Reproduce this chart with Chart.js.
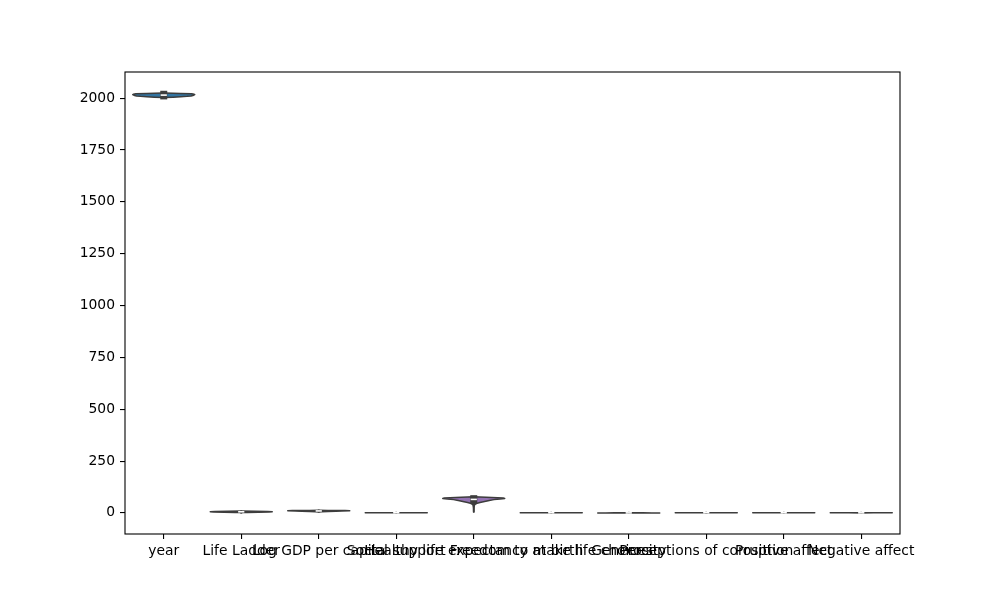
<!DOCTYPE html>
<html><head><meta charset="utf-8">
<script src="https://cdn.jsdelivr.net/npm/chart.js@4.4.1/dist/chart.umd.min.js"></script>
<style>html,body{margin:0;padding:0;background:#fff}#wrap{width:1000px;height:600px}</style>
</head><body>
<div id="wrap"><canvas id="c" width="1000" height="600"></canvas></div>
<script>
const categories = ["year", "Life Ladder", "Log GDP per capita", "Social support",
  "Healthy life expectancy at birth", "Freedom to make life choices", "Generosity",
  "Perceptions of corruption", "Positive affect", "Negative affect"];

const whiskerLow  = [2005, 1.28, 5.53, 0.23, 6.72, 0.23, -0.34, 0.035, 0.18, 0.08];
const q1          = [2011, 4.64, 8.51, 0.74, 59.2, 0.66, -0.11, 0.69, 0.57, 0.21];
const medians     = [2015, 5.45, 9.50, 0.83, 65.1, 0.77, -0.02, 0.80, 0.66, 0.26];
const q3          = [2019, 6.32, 10.39, 0.90, 68.6, 0.86, 0.09, 0.87, 0.74, 0.33];
const whiskerHigh = [2023, 8.02, 11.68, 0.99, 74.6, 0.99, 0.70, 0.98, 0.88, 0.71];

const violinValues = [
  [2002.9, 2005, 2007, 2009, 2011, 2013, 2015, 2017, 2019, 2021, 2023, 2025.1],
  [0.6, 1.5, 2.5, 3.5, 4.5, 5.5, 6.5, 7.5, 8.7],
  [4.9, 6, 7, 8, 9, 10, 11, 11.8, 12.3],
  [0.15, 0.3, 0.45, 0.6, 0.7, 0.8, 0.9, 0.97, 1.07],
  [3.8, 10, 20, 30, 40, 45, 50, 55, 60, 64, 67, 70, 72, 75, 77.6],
  [0.15, 0.3, 0.45, 0.6, 0.7, 0.8, 0.9, 0.97, 1.07],
  [-0.5, -0.3, -0.2, -0.1, 0, 0.1, 0.2, 0.35, 0.5, 0.75],
  [-0.05, 0.1, 0.3, 0.5, 0.65, 0.75, 0.85, 0.93, 1.05],
  [0.12, 0.3, 0.45, 0.55, 0.65, 0.72, 0.8, 0.87, 0.95],
  [0.02, 0.12, 0.2, 0.27, 0.35, 0.45, 0.55, 0.65, 0.77]
];
const violinWidths = [
  [0.02, 0.3, 0.55, 0.75, 0.88, 0.94, 0.97, 1.0, 0.98, 0.9, 0.55, 0.03],
  [0, 0.05, 0.2, 0.55, 0.9, 1.0, 0.85, 0.45, 0],
  [0, 0.1, 0.3, 0.55, 0.75, 1.0, 0.85, 0.3, 0],
  [0, 0.03, 0.08, 0.25, 0.45, 0.75, 1.0, 0.7, 0],
  [0, 0.004, 0.005, 0.01, 0.03, 0.08, 0.2, 0.35, 0.5, 0.65, 0.85, 1.0, 0.95, 0.4, 0],
  [0, 0.03, 0.12, 0.4, 0.7, 0.95, 1.0, 0.55, 0],
  [0, 0.15, 0.55, 0.95, 1.0, 0.75, 0.45, 0.15, 0.04, 0],
  [0, 0.03, 0.07, 0.15, 0.35, 0.7, 1.0, 0.75, 0],
  [0, 0.05, 0.25, 0.6, 0.95, 1.0, 0.7, 0.25, 0],
  [0, 0.4, 0.9, 1.0, 0.75, 0.35, 0.12, 0.04, 0]
];

const yTicks = [0, 250, 500, 750, 1000, 1250, 1500, 1750, 2000];

const palette = ["#3274a1", "#e1812c", "#3a923a", "#c03d3e", "#9372b2",
  "#845b53", "#d684bd", "#7f7f7f", "#a9aa35", "#2eabb8"];
const edgeColor = "#3d3d3d";

const allVals = violinValues.flat();
const dMin = Math.min(...allVals), dMax = Math.max(...allVals);
const margin = (dMax - dMin) * 0.05;

Chart.defaults.font.family = "'DejaVu Sans', sans-serif";
Chart.defaults.font.size = 13.89;
Chart.defaults.color = "#000";

const violinPlugin = {
  id: "violins",
  afterDatasetsDraw(chart) {
    const ctx = chart.ctx, x = chart.scales.x, y = chart.scales.y;
    const step = x.getPixelForValue(1) - x.getPixelForValue(0);
    const half = step * 0.4;
    ctx.save();
    categories.forEach((c, i) => {
      const cx = x.getPixelForValue(i);
      const vals = violinValues[i], ws = violinWidths[i];
      ctx.beginPath();
      for (let k = 0; k < vals.length; k++) {
        const px = cx + ws[k] * half, py = y.getPixelForValue(vals[k]);
        if (k === 0) ctx.moveTo(px, py); else ctx.lineTo(px, py);
      }
      for (let k = vals.length - 1; k >= 0; k--) {
        ctx.lineTo(cx - ws[k] * half, y.getPixelForValue(vals[k]));
      }
      ctx.closePath();
      ctx.fillStyle = palette[i];
      ctx.fill();
      ctx.lineWidth = 1.5;
      ctx.lineJoin = "round";
      ctx.strokeStyle = edgeColor;
      ctx.stroke();

      // whisker
      ctx.beginPath();
      ctx.lineCap = "square";
      ctx.lineWidth = 1.8;
      ctx.moveTo(cx, y.getPixelForValue(whiskerLow[i]));
      ctx.lineTo(cx, y.getPixelForValue(whiskerHigh[i]));
      ctx.stroke();

      // box (skipped when it collapses below a pixel, as in the raster)
      const b1 = y.getPixelForValue(q1[i]), b3 = y.getPixelForValue(q3[i]);
      if (Math.abs(b1 - b3) >= 1) {
        ctx.beginPath();
        ctx.lineWidth = 7;
        ctx.lineCap = "square";
        ctx.moveTo(cx, b1);
        ctx.lineTo(cx, b3);
        ctx.stroke();
      }
      // median marker
      const pm = y.getPixelForValue(medians[i]);
      ctx.beginPath();
      ctx.lineCap = "butt";
      ctx.lineWidth = 1.6;
      ctx.strokeStyle = "#ffffff";
      ctx.moveTo(cx - 3.1, pm);
      ctx.lineTo(cx + 3.1, pm);
      ctx.stroke();
    });
    ctx.restore();
  }
};

const framePlugin = {
  id: "frame",
  afterDraw(chart) {
    const a = chart.chartArea, ctx = chart.ctx;
    ctx.save();
    ctx.strokeStyle = "#000";
    ctx.lineWidth = 1.1;
    ctx.strokeRect(a.left, a.top, a.right - a.left, a.bottom - a.top);
    ctx.restore();
  }
};

new Chart(document.getElementById("c"), {
  type: "line",
  data: {
    labels: categories,
    datasets: [{ data: medians, showLine: false, pointRadius: 0, pointHoverRadius: 0 }]
  },
  options: {
    responsive: false,
    animation: false,
    events: [],
    layout: { padding: { left: 0, top: 72, right: 100, bottom: 0 } },
    plugins: { legend: { display: false }, tooltip: { enabled: false } },
    scales: {
      x: {
        type: "category",
        offset: true,
        grid: { display: true, drawOnChartArea: false, drawTicks: true, tickLength: 5, color: "#000", lineWidth: 1.1 },
        border: { display: false },
        ticks: { autoSkip: false, maxRotation: 0, minRotation: 0, padding: 4, color: "#000" },
        afterFit(s) { s.height = 66; }
      },
      y: {
        type: "linear",
        min: dMin - margin,
        max: dMax + margin,
        grid: { display: true, drawOnChartArea: false, drawTicks: true, tickLength: 5, color: "#000", lineWidth: 1.1 },
        border: { display: false },
        ticks: { padding: 5, color: "#000", callback: v => String(v) },
        afterBuildTicks(s) { s.ticks = yTicks.map(v => ({ value: v })); },
        afterFit(s) { s.width = 125; }
      }
    }
  },
  plugins: [violinPlugin, framePlugin]
});
</script>
</body></html>
